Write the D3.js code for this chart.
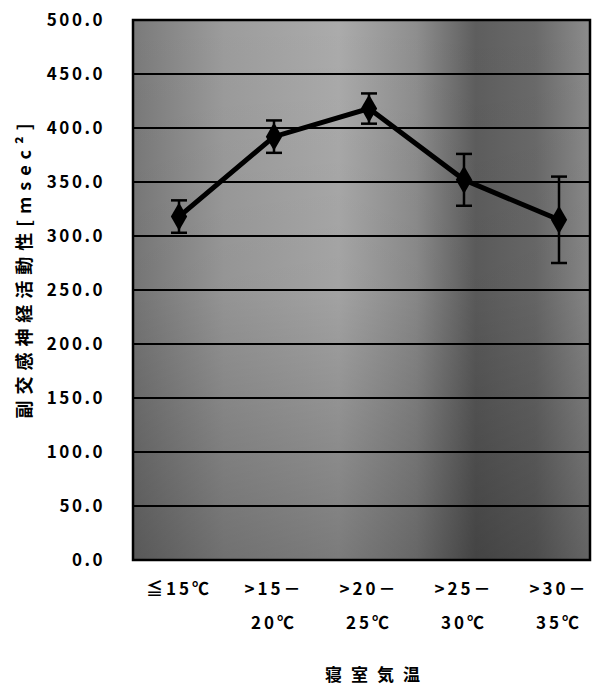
<!DOCTYPE html>
<html>
<head>
<meta charset="utf-8">
<script src="https://cdn.jsdelivr.net/npm/d3@7"></script>
<style>
  body { margin: 0; background: #fff; }
  text { font-family: "Noto Sans CJK JP", "Noto Sans", sans-serif; font-weight: bold; fill: #000; }
</style>
</head>
<body>
<svg id="chart" width="601" height="687"></svg>
<script>
// 寝室気温 categories (two lines each)
var categories = [['≦15℃'], ['>15－', '20℃'], ['>20－', '25℃'], ['>25－', '30℃'], ['>30－', '35℃']];
var means = [318, 392, 418, 352, 315];
var errors = [15, 15, 14, 24, 40];
var yTicks = [0, 50, 100, 150, 200, 250, 300, 350, 400, 450, 500];

var plot = { left: 133, right: 590, top: 20, bottom: 560 };

var svg = d3.select('#chart');

var keys = categories.map(function (c) { return c.join(''); });
var x = d3.scalePoint().domain(keys).range([plot.left + 46, plot.right - 31]);
var y = d3.scaleLinear().domain([0, 500]).range([plot.bottom, plot.top]);

// background, darker where the scan is darker
var defs = svg.append('defs');
var grad = defs.append('linearGradient').attr('id', 'bg').attr('x1', 0).attr('x2', 1).attr('y1', 0).attr('y2', 0);
[[0, '#7a7a7a'], [0.2, '#9c9c9c'], [0.45, '#ababab'], [0.62, '#8e8e8e'], [0.75, '#5e5e5e'], [0.88, '#6a6a6a'], [1, '#8c8c8c']]
  .forEach(function (s) { grad.append('stop').attr('offset', s[0]).attr('stop-color', s[1]); });
var shade = defs.append('linearGradient').attr('id', 'shade').attr('x1', 0).attr('x2', 0).attr('y1', 0).attr('y2', 1);
[[0, 0], [0.5, 0.05], [1, 0.28]]
  .forEach(function (s) { shade.append('stop').attr('offset', s[0]).attr('stop-color', '#000').attr('stop-opacity', s[1]); });

svg.append('rect')
  .attr('x', plot.left).attr('y', plot.top)
  .attr('width', plot.right - plot.left).attr('height', plot.bottom - plot.top)
  .attr('fill', 'url(#bg)');
svg.append('rect')
  .attr('x', plot.left).attr('y', plot.top)
  .attr('width', plot.right - plot.left).attr('height', plot.bottom - plot.top)
  .attr('fill', 'url(#shade)');

// gridlines
svg.append('g').selectAll('line')
  .data(yTicks)
  .enter().append('line')
  .attr('x1', plot.left).attr('x2', plot.right)
  .attr('y1', function (d) { return y(d); }).attr('y2', function (d) { return y(d); })
  .attr('stroke', '#000').attr('stroke-width', 2);

svg.append('rect')
  .attr('x', plot.left).attr('y', plot.top)
  .attr('width', plot.right - plot.left).attr('height', plot.bottom - plot.top)
  .attr('fill', 'none').attr('stroke', '#000').attr('stroke-width', 2.5);

// y axis
var yAxis = d3.axisLeft(y).tickValues(yTicks).tickFormat(d3.format('.1f')).tickSize(0).tickPadding(28);
var yg = svg.append('g').attr('transform', 'translate(' + plot.left + ',0)').call(yAxis);
yg.select('.domain').remove();
yg.selectAll('text')
  .attr('font-size', 17).attr('letter-spacing', 2.5)
  .style('font-family', '"Noto Sans CJK JP", sans-serif').style('font-weight', 'bold');

// x labels
var xl = svg.append('g').selectAll('text')
  .data(categories)
  .enter().append('text')
  .attr('text-anchor', 'middle')
  .attr('font-size', 17)
  .attr('letter-spacing', 3)
  .attr('x', function (d) { return x(d.join('')); })
  .attr('y', 595);
xl.selectAll('tspan')
  .data(function (d) { return d; })
  .enter().append('tspan')
  .attr('x', function () { return d3.select(this.parentNode).attr('x'); })
  .attr('dy', function (d, i) { return i === 0 ? 0 : 34; })
  .text(function (d) { return d; });

// axis titles
svg.append('text')
  .attr('text-anchor', 'middle')
  .attr('font-size', 17)
  .attr('x', 377).attr('y', 681)
  .attr('letter-spacing', 9)
  .text('寝室気温');

svg.append('text')
  .attr('text-anchor', 'middle')
  .attr('font-size', 18)
  .attr('transform', 'translate(31,271) rotate(-90)')
  .attr('textLength', 295).attr('lengthAdjust', 'spacing')
  .text('副交感神経活動性[msec²]');

// error bars
var eb = svg.append('g').attr('stroke', '#000').attr('stroke-width', 2.5);
keys.forEach(function (k, i) {
  var cx = x(k);
  eb.append('line').attr('x1', cx).attr('x2', cx).attr('y1', y(means[i] + errors[i])).attr('y2', y(means[i] - errors[i]));
  eb.append('line').attr('x1', cx - 8).attr('x2', cx + 8).attr('y1', y(means[i] + errors[i])).attr('y2', y(means[i] + errors[i]));
  eb.append('line').attr('x1', cx - 8).attr('x2', cx + 8).attr('y1', y(means[i] - errors[i])).attr('y2', y(means[i] - errors[i]));
});

// line + markers
var line = d3.line()
  .x(function (d, i) { return x(keys[i]); })
  .y(function (d) { return y(d); });

svg.append('path')
  .datum(means)
  .attr('d', line)
  .attr('fill', 'none')
  .attr('stroke', '#000')
  .attr('stroke-width', 5);

svg.append('g').selectAll('path')
  .data(means)
  .enter().append('path')
  .attr('d', d3.symbol(d3.symbolDiamond).size(230))
  .attr('transform', function (d, i) { return 'translate(' + x(keys[i]) + ',' + y(d) + ')'; })
  .attr('fill', '#000');
</script>
</body>
</html>
